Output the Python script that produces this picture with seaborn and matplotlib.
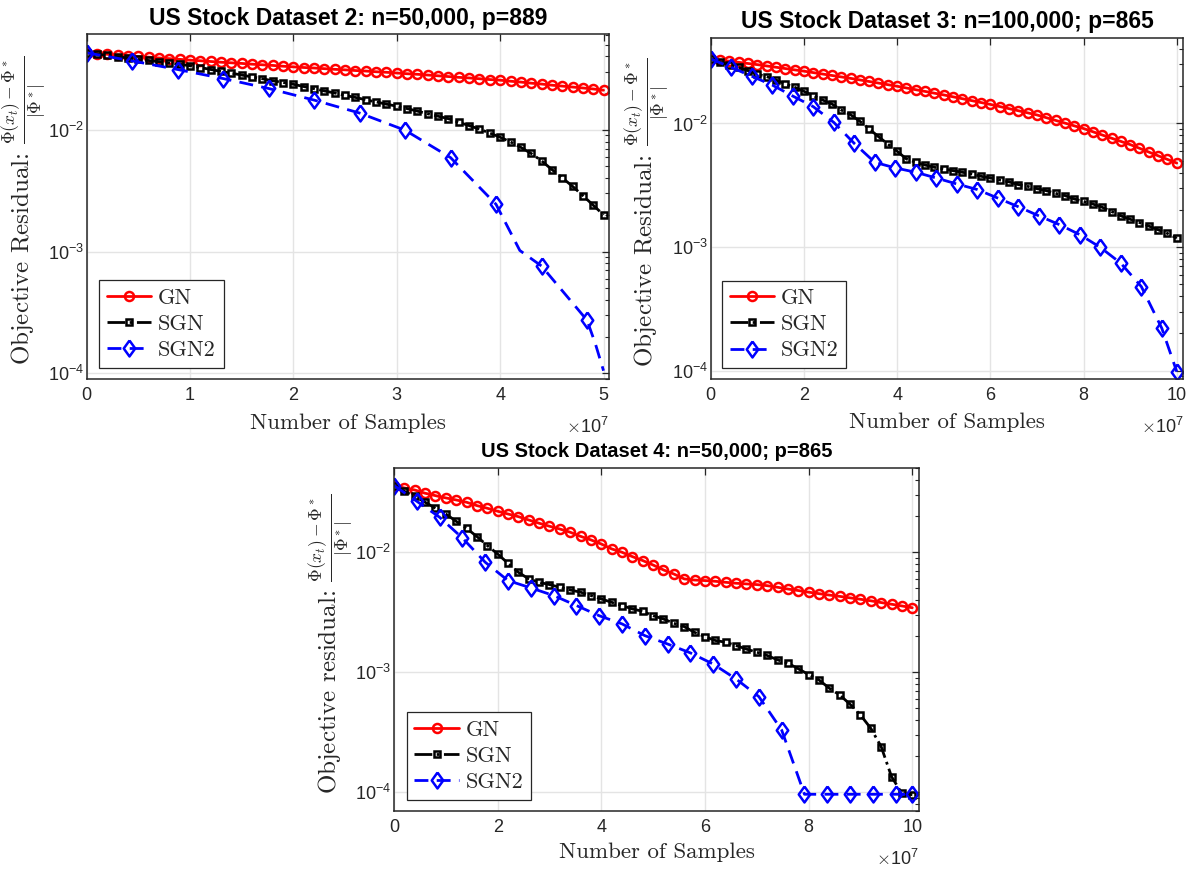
import numpy as np
import matplotlib
matplotlib.use("Agg")
import matplotlib.pyplot as plt
import matplotlib.ticker as mticker
from matplotlib.lines import Line2D
import seaborn as sns

# ---------------------------------------------------------------- data
# US Stock Dataset 2 : GN / SGN logged every 1e6 samples
samples_ds2 = np.arange(51) * 1e6
gn_ds2 = [0.0428, 0.0422, 0.0416, 0.0410, 0.0405, 0.0399, 0.0394, 0.0388, 0.0383, 0.0378,
          0.0372, 0.0368, 0.0363, 0.0358, 0.0354, 0.0350, 0.0345, 0.0341, 0.0337, 0.0332,
          0.0328, 0.0324, 0.0321, 0.0317, 0.0313, 0.0310, 0.0306, 0.0303, 0.0299, 0.0296,
          0.0292, 0.0288, 0.0285, 0.0281, 0.0277, 0.0273, 0.0269, 0.0266, 0.0262, 0.0258,
          0.0255, 0.0250, 0.0246, 0.0241, 0.0237, 0.0232, 0.0228, 0.0224, 0.0220, 0.0216,
          0.0211]
sgn_ds2 = [0.0428, 0.0418, 0.0407, 0.0397, 0.0388, 0.0378, 0.0370, 0.0361, 0.0352, 0.0344,
           0.0335, 0.0324, 0.0312, 0.0301, 0.0291, 0.0281, 0.0271, 0.0262, 0.0252, 0.0244,
           0.0236, 0.0226, 0.0217, 0.0208, 0.0200, 0.0191, 0.0184, 0.0176, 0.0169, 0.0162,
           0.0156, 0.0149, 0.0142, 0.0135, 0.0129, 0.0123, 0.0115, 0.0108, 0.0101, 0.00938,
           0.00867, 0.00794, 0.00716, 0.00638, 0.00556, 0.00471, 0.00403, 0.00343, 0.00288, 0.00240,
           0.00200]
sgn2_samples_ds2 = np.array([0, 0.44, 0.88, 1.32, 1.76, 2.2, 2.64, 3.08, 3.52, 3.96,
                             4.19, 4.4, 4.84, 4.92, 5.0]) * 1e7
sgn2_ds2 = [0.0428, 0.0367, 0.0312, 0.0263, 0.0218, 0.0175, 0.0137, 0.0099, 0.0059, 0.00244,
            0.00102, 0.00076, 0.000273, 0.000176, 0.000105]
sgn2_marks_ds2 = [0, 1, 2, 3, 4, 5, 6, 7, 8, 9, 11, 12]

# US Stock Dataset 3 and 4 : GN / SGN logged every 2e6 samples
samples_ds34 = np.arange(51) * 2e6
gn_ds3 = [0.03327, 0.03257, 0.03189, 0.03122, 0.03056, 0.02992, 0.02920, 0.02850, 0.02781, 0.02714,
          0.02649, 0.02579, 0.02511, 0.02445, 0.02380, 0.02317, 0.02250, 0.02185, 0.02122, 0.02060,
          0.02000, 0.01936, 0.01875, 0.01816, 0.01758, 0.01702, 0.01643, 0.01586, 0.01530, 0.01477,
          0.01426, 0.01371, 0.01318, 0.01268, 0.01219, 0.01172, 0.01114, 0.01059, 0.01007, 0.00957,
          0.00910, 0.00857, 0.00807, 0.00760, 0.00716, 0.00675, 0.00630, 0.00587, 0.00548, 0.00512,
          0.00478]
sgn_ds3 = [0.03327, 0.03126, 0.02992, 0.02844, 0.02673, 0.02512, 0.02393, 0.02249, 0.02089, 0.01963,
           0.01820, 0.01679, 0.01549, 0.01439, 0.01285, 0.01178, 0.01042, 0.00904, 0.00782, 0.00682,
           0.00596, 0.00516, 0.00485, 0.00461, 0.00442, 0.00429, 0.00415, 0.00403, 0.00390, 0.00374,
           0.00362, 0.00349, 0.00337, 0.00320, 0.00310, 0.00297, 0.00286, 0.00272, 0.00261, 0.00245,
           0.00234, 0.00223, 0.00210, 0.00194, 0.00179, 0.00168, 0.00158, 0.00148, 0.00138, 0.00129,
           0.00118]
sgn2_samples_ds3 = np.array([0, 0.44, 0.88, 1.32, 1.76, 2.2, 2.64, 3.08, 3.52, 3.96, 4.4, 4.84,
                             5.28, 5.72, 6.16, 6.6, 7.04, 7.48, 7.92, 8.36, 8.8, 9.24, 9.68, 10.0]) * 1e7
sgn2_ds3 = [0.0333, 0.02844, 0.02410, 0.02046, 0.01667, 0.01368, 0.01021, 0.00690, 0.00485, 0.00437,
            0.00403, 0.00362, 0.00324, 0.00292, 0.00249, 0.00212, 0.00179, 0.00152, 0.00126, 0.000995,
            0.000740, 0.000479, 0.000220, 0.0000982]

gn_ds4 = [0.03597, 0.03436, 0.03304, 0.03105, 0.02965, 0.02838, 0.02729, 0.02612, 0.02449, 0.02328,
          0.02198, 0.02084, 0.01982, 0.01858, 0.01746, 0.01648, 0.01563, 0.01469, 0.01358, 0.01268,
          0.01172, 0.01067, 0.01000, 0.00920, 0.00853, 0.00783, 0.00713, 0.00659, 0.00600, 0.00587,
          0.00581, 0.00573, 0.00562, 0.00552, 0.00545, 0.00538, 0.00527, 0.00511, 0.00494, 0.00480,
          0.00465, 0.00452, 0.00440, 0.00429, 0.00417, 0.00406, 0.00394, 0.00381, 0.00369, 0.00357,
          0.00345]
sgn_ds4 = [0.03597, 0.03221, 0.02931, 0.02612, 0.02328, 0.02084, 0.01811, 0.01585, 0.01352, 0.01138,
           0.00968, 0.00809, 0.00681, 0.00600, 0.00562, 0.00538, 0.00511, 0.00485, 0.00465, 0.00436,
           0.00408, 0.00383, 0.00360, 0.00337, 0.00322, 0.00296, 0.00278, 0.00256, 0.00240, 0.00215,
           0.00198, 0.00184, 0.00178, 0.00167, 0.00156, 0.00147, 0.00138, 0.00127, 0.00119, 0.00107,
           0.000957, 0.000863, 0.000736, 0.000647, 0.000541, 0.000441, 0.000341, 0.000240, 0.000135, 0.0000977,
           0.0000955]
sgn2_samples_ds4 = np.array([0, 0.44, 0.88, 1.32, 1.76, 2.2, 2.64, 3.08, 3.52, 3.96, 4.4, 4.84,
                             5.28, 5.72, 6.16, 6.6, 7.04, 7.48, 7.92, 8.36, 8.8, 9.24, 9.68, 10.0]) * 1e7
sgn2_ds4 = [0.0360, 0.02661, 0.01959, 0.01315, 0.00826, 0.00581, 0.00505, 0.00436, 0.00360, 0.00296,
            0.00253, 0.00202, 0.00172, 0.00145, 0.00117, 0.000879, 0.000627, 0.000330, 0.0000962, 0.0000962,
            0.0000962, 0.0000962, 0.0000962, 0.0000962]

titles = ["US Stock Dataset 2: n=50,000, p=889",
          "US Stock Dataset 3: n=100,000; p=865",
          "US Stock Dataset 4: n=50,000; p=865"]
frac = r"$\frac{\Phi(x_t)-\Phi^*}{|\Phi^*|}$"
ylabels = ["Objective Residual: " + frac,
           "Objective Residual: " + frac,
           "Objective residual: " + frac]
legend_names = ["GN", "SGN", "SGN2"]

# ---------------------------------------------------------------- style
sns.set_style("whitegrid", {"axes.edgecolor": "#262626", "grid.color": "#e4e4e4"})
plt.rcParams["font.family"] = ["Liberation Sans", "DejaVu Sans"]
plt.rcParams["mathtext.fontset"] = "cm"
plt.rcParams["axes.formatter.use_mathtext"] = True

diamond = [(0, 1), (0.72, 0), (0, -1), (-0.72, 0), (0, 1)]
styles = [
    dict(color="#ff0000", linestyle="-", linewidth=2.0, marker="o", markersize=6.5,
         markerfacecolor="none", markeredgecolor="#ff0000", markeredgewidth=1.8),
    dict(color="black", linestyle="-.", linewidth=2.0, marker="s", markersize=3.8,
         markerfacecolor="none", markeredgecolor="black", markeredgewidth=1.8),
    dict(color="#0000ff", linestyle=(0, (5, 3)), linewidth=2.0, marker=diamond, markersize=11.5,
         markerfacecolor="none", markeredgecolor="#0000ff", markeredgewidth=1.8),
]

W, H = 1190, 869
fig = plt.figure(figsize=(W / 100, H / 100), dpi=100)


def px_axes(left, right, top, bottom):
    return fig.add_axes([left / W, 1 - bottom / H, (right - left) / W, (bottom - top) / H])


panels = [
    dict(ax=px_axes(86.7, 608.7, 34.3, 379), xmax=5.05e7, xstep=1e7, ylim=(8.98e-5, 0.0607),
         series=[(samples_ds2, gn_ds2, None), (samples_ds2, sgn_ds2, None),
                 (sgn2_samples_ds2, sgn2_ds2, sgn2_marks_ds2)],
         title_size=16.5, title_pad=7, ylab_x=-0.073, xlab_y=-0.099),
    dict(ax=px_axes(710.7, 1183.3, 37.7, 379), xmax=10.14e7, xstep=2e7, ylim=(8.57e-5, 0.0494),
         series=[(samples_ds34, gn_ds3, None), (samples_ds34, sgn_ds3, None),
                 (sgn2_samples_ds3, sgn2_ds3, None)],
         title_size=16.5, title_pad=7, ylab_x=-0.081, xlab_y=-0.097),
    dict(ax=px_axes(394, 919, 468.3, 811), xmax=10.13e7, xstep=2e7, ylim=(6.98e-5, 0.0501),
         series=[(samples_ds34, gn_ds4, None), (samples_ds34, sgn_ds4, None),
                 (sgn2_samples_ds4, sgn2_ds4, None)],
         title_size=14.5, title_pad=8, ylab_x=-0.073, xlab_y=-0.093),
]

serif = ["cmr10", "DejaVu Serif"]

for i, p in enumerate(panels):
    ax = p["ax"]
    ax.set_yscale("log")
    for (xs, ys, marks), st in zip(p["series"], styles):
        kw = dict(st)
        if marks is not None:
            kw["markevery"] = marks
        sns.lineplot(x=xs, y=ys, ax=ax, legend=False, **kw)

    ax.set_xlim(0, p["xmax"])
    ax.set_ylim(*p["ylim"])
    ax.xaxis.set_major_locator(mticker.MultipleLocator(p["xstep"]))
    ax.xaxis.set_major_formatter(mticker.FuncFormatter(lambda v, pos: f"{v / 1e7:g}"))
    ax.xaxis.set_minor_locator(mticker.NullLocator())
    ax.yaxis.set_major_locator(mticker.LogLocator(base=10))
    ax.yaxis.set_minor_locator(mticker.LogLocator(base=10, subs=np.arange(2, 10)))
    ax.yaxis.set_minor_formatter(mticker.NullFormatter())

    ax.grid(True, which="major", color="#e4e4e4", linewidth=1.0)
    ax.grid(False, which="minor")
    ax.tick_params(which="both", direction="in", top=True, right=True,
                   colors="#262626", labelsize=13)
    ax.tick_params(which="major", length=5, width=0.9)
    ax.tick_params(which="minor", length=3, width=0.8)
    ax.tick_params(axis="x", pad=6)
    ax.tick_params(axis="y", pad=2)
    for sp in ax.spines.values():
        sp.set_color("#262626")
        sp.set_linewidth(1.1)

    ax.set_title(titles[i], fontsize=p["title_size"], fontweight="bold",
                 pad=p["title_pad"], color="black")
    ax.set_xlabel("Number of Samples", fontsize=16.5, color="#262626", family=serif)
    ax.set_ylabel(ylabels[i], fontsize=18, color="#262626", family=serif)
    ax.xaxis.set_label_coords(0.5, p["xlab_y"])
    ax.yaxis.set_label_coords(p["ylab_x"], 0.49)
    ax.text(1.0, -0.158, r"$\times\mathdefault{10^{7}}$", transform=ax.transAxes,
            ha="right", va="baseline", fontsize=13, color="#262626")

    handles = [Line2D([], [], **st) for st in styles]
    leg = ax.legend(handles, legend_names, loc="lower left", bbox_to_anchor=(0.024, 0.032),
                    borderaxespad=0, prop=dict(family=serif, size=16), frameon=True,
                    fancybox=False, edgecolor="#262626", framealpha=1, handlelength=2.0,
                    handletextpad=0.3, labelspacing=0.3, borderpad=0.35)
    leg.get_frame().set_linewidth(0.9)

fig.savefig("out.png", dpi=100)
